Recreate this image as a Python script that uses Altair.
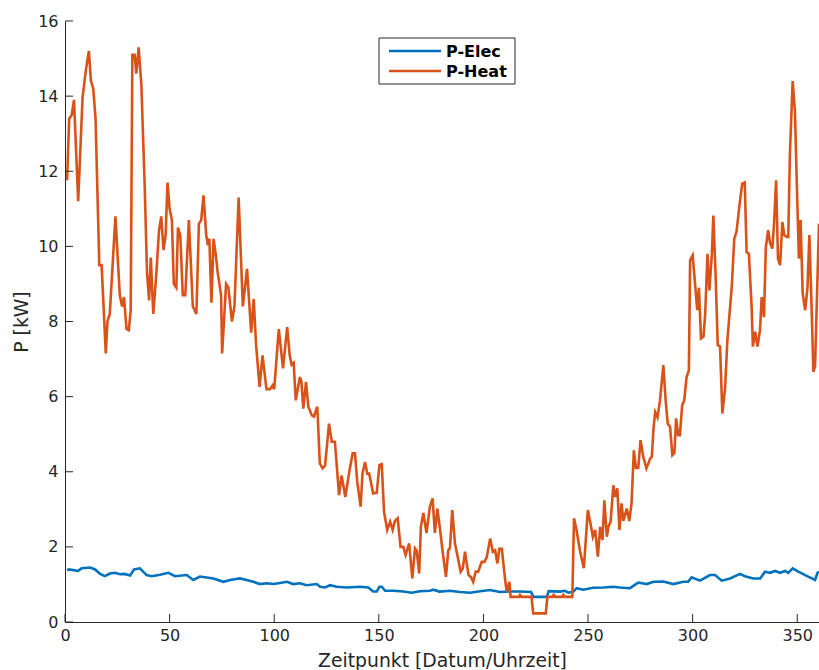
import altair as alt
import pandas as pd

# Heizleistung (P-Heat) über das Jahr, Tag -> kW
heat_day = [1, 2, 3.2, 4.3, 6.3, 8.4, 10, 11.4, 12.4, 13.5, 14.6, 16.4, 17.5, 19.5, 20.3, 21.4,
            24.1, 26.2, 27.3, 28.2, 29.4, 30.5, 31.4, 32.2, 33.3, 34.1, 35.2, 36.5, 38.1, 39.2,
            40.2, 41, 42.2, 43.7, 44.9, 46, 47.1, 48.1, 49, 50, 51.1, 52, 53.2, 54, 55.1, 56.3,
            57.5, 59.2, 61.1, 62.8, 64, 65.1, 66.2, 67.5, 68.1, 69, 70, 71, 72, 73, 74.6, 75.1,
            77, 78.1, 79.8, 81, 83, 85, 87, 89, 90.2, 91.3, 93, 94.4, 96.3, 98, 99.2, 100,
            102.2, 104.2, 106.2, 107.4, 108.3, 109.3, 110.3, 112.3, 113, 113.9, 115.2, 116.3,
            118, 119, 120.6, 121.8, 123.1, 124.3, 126.2, 127.5, 129, 131, 132.2, 134, 136,
            137.5, 138.6, 139.7, 141.3, 142.2, 143.4, 144.5, 145.4, 146.2, 147.3, 149, 150.3,
            151.4, 152.5, 154, 155.4, 156.6, 157.7, 159, 160.4, 161.7, 162.8, 163.7, 164.5,
            166, 167.3, 168.1, 169.3, 170.1, 171.3, 172.8, 174.4, 175.7, 176.8, 178, 179.3,
            180.6, 182.1, 183.2, 184, 185.1, 186.4, 188, 189.1, 190.1, 191.2, 192, 192.9, 194,
            195.1, 196.3, 197.5, 199.2, 200.5, 201.6, 203.2, 204.5, 205.6, 206.7, 207.6, 208.8,
            210.3, 211.1, 212.4, 213, 217, 217.5, 218.2, 223, 223.8, 229.8, 230.6, 233, 233.6,
            234.4, 237.6, 238.2, 239, 242.5, 243.3, 244.5, 246.1, 248, 249.9, 251, 252.3,
            253.4, 254.7, 255.8, 256.9, 257.8, 259, 259.7, 260.8, 262.1, 262.9, 264, 265, 266,
            266.9, 268.5, 269.7, 270.8, 271.9, 272.9, 274, 275.1, 276.4, 277.9, 279.7, 280.5,
            281.3, 282.1, 283.2, 284.4, 286, 287.1, 288.1, 289.2, 290.3, 291.3, 292.1, 293.1,
            293.9, 295, 296, 297.1, 298.2, 298.8, 300, 301.1, 302.2, 303, 304, 305.2, 306,
            307.1, 308, 309.2, 309.9, 311, 312, 313.1, 314.2, 315.5, 316.6, 318.7, 319.9, 321,
            322.3, 323.7, 324.9, 325.8, 326.9, 328.2, 328.8, 329.9, 331, 332.2, 333, 334.1,
            335, 336.1, 337, 338.1, 338.9, 339.9, 340.8, 341.8, 342.9, 343.8, 345, 345.7,
            346.5, 347.8, 348.9, 349.7, 350.8, 351.6, 352.6, 353.8, 354.9, 355.8, 357, 357.7,
            358.5, 360.4]
heat_kw = [11.76, 13.4, 13.5, 13.9, 11.2, 13.97, 14.7, 15.2, 14.4, 14.2, 13.4, 9.5, 9.5, 7.15,
           8.0, 8.2, 10.8, 8.7, 8.4, 8.65, 7.8, 7.77, 8.3, 15.1, 15.1, 14.6, 15.3, 14.3, 11.6,
           9.3, 8.56, 9.7, 8.2, 9.3, 10.4, 10.8, 9.9, 10.3, 11.7, 11.0, 10.7, 9.0, 8.9, 10.5,
           10.3, 8.7, 8.7, 10.7, 8.4, 8.2, 10.6, 10.7, 11.36, 10.3, 10.1, 10.2, 8.5, 10.2, 9.8,
           9.3, 8.7, 7.15, 9.0, 8.9, 8.0, 8.4, 11.3, 8.4, 9.4, 7.7, 8.6, 7.4, 6.26, 7.1, 6.2,
           6.2, 6.3, 6.2, 7.8, 6.75, 7.85, 7.1, 6.85, 6.9, 5.9, 6.52, 6.4, 5.68, 6.39, 5.73,
           5.5, 5.47, 5.73, 4.22, 4.09, 4.16, 5.28, 4.8, 4.8, 3.38, 3.9, 3.33, 4.04, 4.49,
           4.49, 3.73, 3.07, 3.95, 4.26, 3.95, 3.95, 3.73, 3.42, 3.44, 4.18, 4.2, 2.93, 2.45,
           2.67, 2.45, 2.69, 2.76, 2.0, 2.0, 1.78, 1.95, 2.09, 1.16, 1.96, 1.9, 1.29, 2.53,
           2.9, 2.37, 3.07, 3.29, 2.37, 3.02, 2.45, 1.83, 1.2, 1.91, 1.97, 2.98, 2.09, 1.65,
           1.34, 1.42, 1.87, 1.56, 1.25, 1.2, 1.07, 1.34, 1.34, 1.6, 1.6, 1.73, 2.22, 1.87,
           1.91, 1.56, 1.95, 1.95, 1.16, 0.81, 1.07, 0.67, 0.67, 0.72, 0.67, 0.67, 0.23, 0.23,
           0.67, 0.67, 0.72, 0.67, 0.67, 0.72, 0.67, 0.67, 2.76, 2.45, 1.91, 1.43, 2.98, 2.67,
           2.27, 2.45, 1.74, 2.53, 2.18, 3.24, 2.27, 2.53, 2.67, 3.64, 3.33, 3.56, 2.45, 3.16,
           2.69, 3.02, 2.69, 3.16, 4.57, 4.1, 4.1, 4.84, 4.4, 4.09, 4.35, 4.4, 5.15, 5.59,
           5.45, 5.9, 6.84, 5.9, 5.28, 5.2, 4.44, 4.5, 5.42, 4.97, 4.97, 5.77, 5.9, 6.52, 6.7,
           9.63, 9.76, 9.05, 8.3, 8.9, 7.55, 7.6, 8.2, 9.8, 8.83, 9.8, 10.82, 9.2, 7.37, 7.34,
           5.55, 6.22, 7.5, 8.92, 10.2, 10.4, 11.05, 11.67, 11.7, 9.85, 9.8, 8.39, 7.33, 7.73,
           7.33, 7.77, 8.65, 8.12, 9.98, 10.43, 10.1, 9.94, 10.6, 11.76, 9.67, 9.5, 10.65,
           10.3, 10.25, 10.25, 12.46, 14.4, 13.6, 11.85, 9.67, 10.7, 8.74, 8.3, 8.9, 10.3,
           8.12, 6.66, 6.8, 10.6]

# Elektrische Leistung (P-Elec)
elec_day = [1, 2, 6.3, 8, 12, 14.4, 16.8, 19.1, 21.5, 23.9, 26.3, 28.5, 31.1, 33, 35.8, 39,
            41.5, 45.4, 49.4, 52.6, 58.2, 61.3, 64.5, 70.9, 75.7, 78.9, 83.6, 86.8, 90, 93.2,
            96.4, 99.6, 102.8, 106, 109.1, 112.3, 115.4, 120.3, 121.9, 124.3, 126.7, 129.9,
            134.6, 141, 145, 147.3, 149, 150.3, 151.4, 153, 156.9, 161.7, 165.7, 169.6, 174.5,
            176, 179, 184, 188.8, 193.6, 198.4, 203.2, 207.9, 212.7, 217.5, 222.8, 223.8,
            230.3, 231.2, 236.6, 239, 240.6, 243, 244.6, 247.7, 252.5, 257.3, 262.1, 265, 270,
            274, 278, 281.3, 286, 290.8, 295.5, 297.9, 299.5, 303.5, 308.3, 310.7, 313.9,
            317.9, 322.6, 325, 329, 332.3, 334.6, 337, 339.4, 341.8, 344.2, 345.7, 347.8,
            350.5, 353.8, 357, 358.5, 359.7, 360.4]
elec_kw = [1.38, 1.40, 1.36, 1.43, 1.45, 1.40, 1.28, 1.22, 1.29, 1.31, 1.27, 1.28, 1.24, 1.40,
           1.43, 1.25, 1.22, 1.26, 1.31, 1.22, 1.25, 1.12, 1.21, 1.16, 1.07, 1.12, 1.16, 1.12,
           1.07, 1.01, 1.03, 1.01, 1.04, 1.07, 1.01, 1.03, 0.98, 1.01, 0.94, 0.92, 0.98, 0.94,
           0.92, 0.94, 0.92, 0.81, 0.81, 0.94, 0.94, 0.83, 0.83, 0.81, 0.78, 0.82, 0.83, 0.86,
           0.81, 0.83, 0.80, 0.78, 0.82, 0.85, 0.80, 0.81, 0.81, 0.80, 0.67, 0.67, 0.82, 0.81,
           0.83, 0.78, 0.81, 0.90, 0.86, 0.91, 0.92, 0.94, 0.92, 0.90, 1.05, 1.01, 1.07, 1.08,
           1.01, 1.07, 1.07, 1.19, 1.10, 1.25, 1.25, 1.10, 1.16, 1.28, 1.22, 1.16, 1.16, 1.34,
           1.31, 1.36, 1.31, 1.36, 1.31, 1.43, 1.34, 1.25, 1.16, 1.12, 1.31, 1.34]

series_names = ["P-Elec", "P-Heat"]
series_colors = ["#0072BD", "#D95319"]

x_ticks = [0, 50, 100, 150, 200, 250, 300, 350]
y_ticks = [0, 2, 4, 6, 8, 10, 12, 14, 16]

X_MAX = 360.4
INK = "#262626"
FONT = "DejaVu Sans"

lines_df = pd.concat([
    pd.DataFrame({"Tag": elec_day, "P": elec_kw, "Serie": series_names[0], "ord": range(len(elec_day))}),
    pd.DataFrame({"Tag": heat_day, "P": heat_kw, "Serie": series_names[1], "ord": range(len(heat_day))}),
])

x_scale = alt.Scale(domain=[0, X_MAX], nice=False, zero=False)
y_scale = alt.Scale(domain=[0, 16], nice=False)
color_scale = alt.Scale(domain=series_names, range=series_colors)

lines = alt.Chart(lines_df).mark_line(strokeWidth=2.6, clip=True).encode(
    x=alt.X("Tag:Q", scale=x_scale,
            axis=alt.Axis(values=x_ticks, title="Zeitpunkt [Datum/Uhrzeit]", ticks=False,
                          grid=False, labelPadding=5, titlePadding=8, labelFlush=False)),
    y=alt.Y("P:Q", scale=y_scale,
            axis=alt.Axis(values=y_ticks, title="P [kW]", ticks=False, grid=False,
                          labelPadding=7, titlePadding=6)),
    color=alt.Color("Serie:N", scale=color_scale, legend=None),
    order="ord:Q",
)

# inward-pointing ticks, drawn as short rules along both axes
x_tick_marks = alt.Chart(pd.DataFrame({"t": x_ticks})).mark_rule(color=INK, strokeWidth=1).encode(
    x=alt.X("t:Q", scale=x_scale),
    y=alt.value(601),
    y2=alt.value(593),
)
y_tick_marks = alt.Chart(pd.DataFrame({"t": y_ticks})).mark_rule(color=INK, strokeWidth=1).encode(
    y=alt.Y("t:Q", scale=y_scale),
    x=alt.value(0),
    x2=alt.value(8),
)

# boxed legend in the upper middle of the plot
legend_box = alt.Chart(pd.DataFrame({"k": [0]})).mark_rect(
    fill="white", stroke=INK, strokeWidth=1
).encode(x=alt.value(314), x2=alt.value(450), y=alt.value(17), y2=alt.value(63))

legend_layers = [legend_box]
for i, (name, col) in enumerate(zip(series_names, series_colors)):
    row_y = 30 + 20 * i
    entry = pd.DataFrame({"Serie": [name]})
    legend_layers.append(
        alt.Chart(entry).mark_rule(strokeWidth=2.6, color=col).encode(
            x=alt.value(324), x2=alt.value(376), y=alt.value(row_y)
        )
    )
    legend_layers.append(
        alt.Chart(entry).mark_text(
            align="left", baseline="middle", font=FONT, fontSize=16,
            fontWeight="bold", color="black"
        ).encode(x=alt.value(381), y=alt.value(row_y + 1), text="Serie:N")
    )

chart = alt.layer(lines, x_tick_marks, y_tick_marks, *legend_layers).properties(
    width=754,
    height=601,
    background="white",
    autosize=alt.AutoSizeParams(type="none"),
    padding={"left": 65, "top": 21, "right": 0, "bottom": 48},
).configure_view(stroke=None).configure_axis(
    domainColor=INK,
    domainWidth=1,
    labelColor=INK,
    labelFont=FONT,
    labelFontSize=16,
    titleColor=INK,
    titleFont=FONT,
    titleFontSize=18.8,
    titleFontWeight="normal",
)

chart.save("out.html", embed_options={"renderer": "svg", "actions": False})
